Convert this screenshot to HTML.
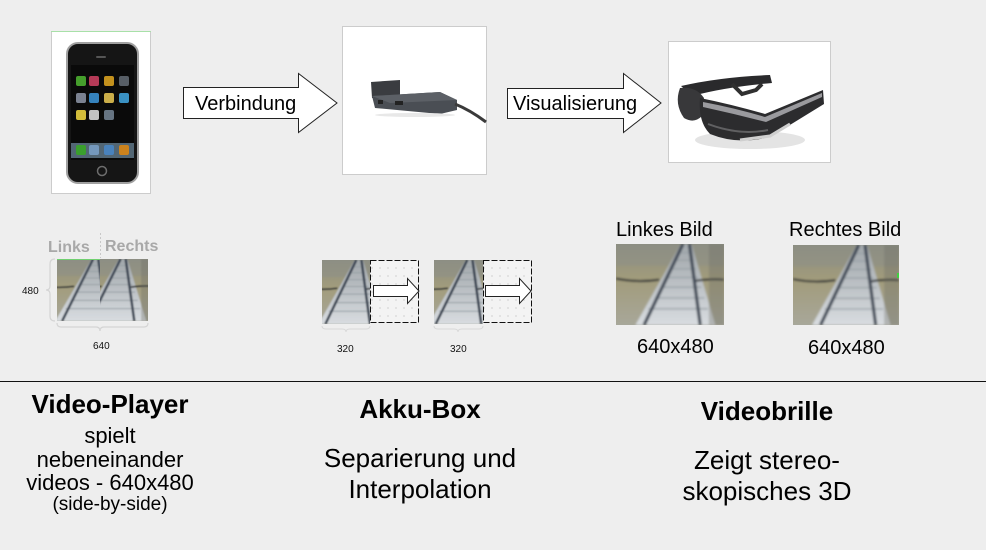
<!DOCTYPE html>
<html><head><meta charset="utf-8"><style>
html,body{margin:0;padding:0;background:#eeeeee;}
body{width:986px;height:550px;overflow:hidden;position:relative;font-family:"Liberation Sans",Arial,sans-serif;}
svg{position:absolute;left:0;top:0;}
</style></head><body>
<svg width="986" height="550" viewBox="0 0 986 550" xmlns="http://www.w3.org/2000/svg" font-family="Liberation Sans, Arial, sans-serif">
<defs>
  <linearGradient id="rbg" x1="0" y1="0" x2="0" y2="1">
    <stop offset="0" stop-color="#8a8c80"/>
    <stop offset="0.45" stop-color="#a29c7c"/>
    <stop offset="1" stop-color="#a8a89c"/>
  </linearGradient>
  <linearGradient id="trk" x1="0" y1="0" x2="0" y2="1">
    <stop offset="0" stop-color="#a0a6aa"/>
    <stop offset="1" stop-color="#d8dce0"/>
  </linearGradient>
  <filter id="soft" x="-5%" y="-5%" width="110%" height="110%"><feGaussianBlur stdDeviation="0.9"/></filter>
  <pattern id="dots" width="8" height="8" patternUnits="userSpaceOnUse">
    <rect width="8" height="8" fill="#f3f3f3"/>
    <circle cx="4" cy="4" r="0.6" fill="#b8b8b8"/>
  </pattern>
  <symbol id="rail" viewBox="0 0 100 75" preserveAspectRatio="none">
    <g filter="url(#soft)">
    <rect x="-3" y="-3" width="106" height="81" fill="url(#rbg)"/>
    <rect x="0" y="0" width="100" height="20" fill="#8e9088" opacity="0.5"/>
    <polygon points="60,0 70,0 92,75 18,75" fill="url(#trk)"/>
    <g stroke="#98a0a6" stroke-width="1.2">
      <line x1="30" y1="60" x2="85" y2="60"/><line x1="36" y1="50" x2="82" y2="50"/>
      <line x1="42" y1="40" x2="79" y2="40"/><line x1="47" y1="31" x2="76" y2="31"/>
      <line x1="51" y1="23" x2="74" y2="23"/><line x1="55" y1="15" x2="72" y2="15"/>
      <line x1="58" y1="8" x2="70" y2="8"/>
    </g>
    <polyline points="62,0 26,75" stroke="#404a56" stroke-width="3" fill="none"/>
    <polyline points="68,0 78,75" stroke="#404a56" stroke-width="3" fill="none"/>
    <path d="M0,32 Q20,36 40,33" stroke="#2e3234" stroke-width="2" fill="none"/>
    <path d="M74,34 Q88,32 100,33" stroke="#2e3234" stroke-width="2" fill="none"/>
    <rect x="86" y="0" width="14" height="75" fill="#6c6c64" opacity="0.35"/>
    </g>
  </symbol>
</defs>

<!-- Phone box -->
<rect x="51.5" y="31.5" width="99" height="162" fill="#ffffff" stroke="#cccccc"/>
<line x1="51" y1="31.5" x2="151" y2="31.5" stroke="#a8e0a8"/>
<rect x="67" y="43" width="71" height="140" rx="11" fill="#151515" stroke="#a0a0a0" stroke-width="2"/>
<rect x="71" y="65" width="63" height="95" fill="#0a0a0a"/>
<rect x="96" y="56" width="10" height="2" rx="1" fill="#555"/>
<g opacity="0.9">
  <rect x="76" y="76" width="10" height="10" rx="2" fill="#4caf30"/>
  <rect x="89" y="76" width="10" height="10" rx="2" fill="#c84060"/>
  <rect x="104" y="76" width="10" height="10" rx="2" fill="#d8a020"/>
  <rect x="119" y="76" width="10" height="10" rx="2" fill="#606870"/>
  <rect x="76" y="93" width="10" height="10" rx="2" fill="#8890a0"/>
  <rect x="89" y="93" width="10" height="10" rx="2" fill="#3a90d0"/>
  <rect x="104" y="93" width="10" height="10" rx="2" fill="#e0c050"/>
  <rect x="119" y="93" width="10" height="10" rx="2" fill="#40a0d8"/>
  <rect x="76" y="110" width="10" height="10" rx="2" fill="#e8d040"/>
  <rect x="89" y="110" width="10" height="10" rx="2" fill="#d8d8d8"/>
  <rect x="104" y="110" width="10" height="10" rx="2" fill="#708090"/>
  <rect x="71" y="143" width="63" height="15" fill="#5a7080"/>
  <rect x="76" y="145" width="10" height="10" rx="2" fill="#40b030"/>
  <rect x="89" y="145" width="10" height="10" rx="2" fill="#80a8d0"/>
  <rect x="104" y="145" width="10" height="10" rx="2" fill="#5090d0"/>
  <rect x="119" y="145" width="10" height="10" rx="2" fill="#e09020"/>
  <circle cx="102" cy="171" r="4.5" fill="none" stroke="#777" stroke-width="1.5"/>
</g>

<!-- Verbindung arrow -->
<polygon points="183.5,87.5 298.5,87.5 298.5,73.5 337,103 298.5,132.5 298.5,118.5 183.5,118.5" fill="#ffffff" stroke="#222" stroke-width="1"/>
<text x="195" y="110" font-size="20" fill="#000">Verbindung</text>

<!-- Akku box -->
<rect x="342.5" y="26.5" width="144" height="148" fill="#ffffff" stroke="#cccccc"/>
<g>
  <polygon points="371,82 400,80 400,96 372,98" fill="#3a3c40"/>
  <polygon points="372,96 440,92 457,100 457,110 440,114 375,108" fill="#4a4e54"/>
  <polygon points="372,96 440,92 457,100 390,103" fill="#5c6066"/>
  <rect x="395" y="101" width="8" height="4" fill="#222"/>
  <rect x="378" y="100" width="5" height="4" fill="#222"/>
  <path d="M455,104 Q470,110 486,122" stroke="#3a3a3a" stroke-width="3" fill="none"/>
  <ellipse cx="415" cy="115" rx="40" ry="2" fill="#e8e8e8"/>
</g>

<!-- Visualisierung arrow -->
<polygon points="507.5,88.5 623.5,88.5 623.5,73.5 661,103 623.5,132.5 623.5,118.5 507.5,118.5" fill="#ffffff" stroke="#222" stroke-width="1"/>
<text x="513" y="110" font-size="20" fill="#000">Visualisierung</text>

<!-- Glasses box -->
<rect x="668.5" y="41.5" width="162" height="121" fill="#ffffff" stroke="#cccccc"/>
<g>
  <ellipse cx="750" cy="140" rx="55" ry="9" fill="#e4e4e4"/>
  <path d="M681,86 Q720,77 770,75 L772,83 Q725,87 692,96 Z" fill="#2a2a2c"/>
  <path d="M732,84 L742,94 L756,90 L762,84" stroke="#303030" stroke-width="4" fill="none"/>
  <path d="M680,88 Q674,104 684,118 Q694,124 702,116 L704,98 Q696,86 680,88 Z" fill="#38383a"/>
  <path d="M700,98 Q730,104 765,114 L823,90 L824,104 L772,136 Q740,146 710,134 Q698,122 700,98 Z" fill="#2c2c2e"/>
  <path d="M703,102 Q735,108 765,117 L822,93 L822,97 L766,122 Q735,114 703,107 Z" fill="#9a9a9e"/>
  <path d="M708,124 Q740,136 768,130" stroke="#606062" stroke-width="2" fill="none"/>
  <path d="M740,140 L770,136 L790,124" stroke="#cfcfcf" stroke-width="3" fill="none"/>
</g>

<!-- Links / Rechts -->
<text x="48" y="252" font-size="16" font-weight="bold" fill="#a8a8a8">Links</text>
<text x="105" y="251" font-size="16" font-weight="bold" fill="#a8a8a8">Rechts</text>
<line x1="100.5" y1="233" x2="100.5" y2="258" stroke="#c8c8c8" stroke-dasharray="2,2"/>
<svg x="57" y="259" width="43" height="62" viewBox="0 0 50 75" preserveAspectRatio="none"><use href="#rail" width="100" height="75" x="-20"/></svg>
<svg x="100" y="259" width="48" height="62" viewBox="0 0 56 75" preserveAspectRatio="none"><use href="#rail" width="100" height="75" x="-38"/></svg>
<line x1="57" y1="259.5" x2="100" y2="259.5" stroke="#70d070"/>
<path d="M55,259 Q50,259 50,264 L50,286 Q50,290 46,290 Q50,290 50,294 L50,316 Q50,321 55,321" fill="none" stroke="#d4d4d4" stroke-width="1.2"/>
<path d="M57,323 Q57,327 61,327 L96,327 Q100,327 100,331 Q100,327 104,327 L144,327 Q148,327 148,323" fill="none" stroke="#d4d4d4" stroke-width="1.2"/>
<text x="22" y="294" font-size="10" fill="#111">480</text>
<text x="93" y="349" font-size="10" fill="#111">640</text>

<!-- Akku separation -->
<svg x="322" y="260" width="48" height="64" viewBox="0 0 56 75" preserveAspectRatio="none"><use href="#rail" width="100" height="75" x="-22"/></svg>
<rect x="370.5" y="260.5" width="48" height="62" fill="url(#dots)" stroke="#111" stroke-dasharray="6,2"/>
<polygon points="373.5,285.5 407.5,285.5 407.5,278.5 419,291 407.5,303.5 407.5,296.5 373.5,296.5" fill="#ffffff" stroke="#222"/>
<path d="M322,326 Q322,329 326,329 L342,329 Q346,329 346,332 Q346,329 350,329 L366,329 Q370,329 370,326" fill="none" stroke="#d8d8d8"/>
<text x="337" y="352" font-size="10" fill="#111">320</text>

<svg x="434" y="260" width="49" height="64" viewBox="0 0 56 75" preserveAspectRatio="none"><use href="#rail" width="100" height="75" x="-24"/></svg>
<rect x="483.5" y="260.5" width="48" height="62" fill="url(#dots)" stroke="#111" stroke-dasharray="6,2"/>
<polygon points="485.5,285.5 519.5,285.5 519.5,278.5 531,291 519.5,303.5 519.5,296.5 485.5,296.5" fill="#ffffff" stroke="#222"/>
<path d="M434,326 Q434,329 438,329 L454,329 Q458,329 458,332 Q458,329 462,329 L479,329 Q483,329 483,326" fill="none" stroke="#d8d8d8"/>
<text x="450" y="352" font-size="10" fill="#111">320</text>

<!-- Right images -->
<text x="616" y="236" font-size="20" fill="#000">Linkes Bild</text>
<svg x="616" y="244" width="108" height="81" viewBox="0 0 100 75" preserveAspectRatio="none"><use href="#rail" width="100" height="75"/></svg>
<text x="637" y="353" font-size="20" fill="#000">640x480</text>

<text x="789" y="236" font-size="20" fill="#000">Rechtes Bild</text>
<svg x="793" y="245" width="106" height="80" viewBox="0 0 100 75" preserveAspectRatio="none"><use href="#rail" width="100" height="75"/></svg>
<line x1="898" y1="273" x2="898" y2="278" stroke="#40d040" stroke-width="2"/>
<text x="808" y="354" font-size="20" fill="#000">640x480</text>

<!-- Divider -->
<line x1="0" y1="381.5" x2="986" y2="381.5" stroke="#111" stroke-width="1"/>

<!-- Bottom labels -->
<g text-anchor="middle" fill="#000">
  <text x="110" y="413" font-size="26" font-weight="bold">Video-Player</text>
  <text x="110" y="443" font-size="22">spielt</text>
  <text x="110" y="467" font-size="22">nebeneinander</text>
  <text x="110" y="490" font-size="22">videos - 640x480</text>
  <text x="110" y="510" font-size="19">(side-by-side)</text>

  <text x="420" y="418" font-size="26" font-weight="bold">Akku-Box</text>
  <text x="420" y="467" font-size="26">Separierung und</text>
  <text x="420" y="498" font-size="26">Interpolation</text>

  <text x="767" y="420" font-size="26" font-weight="bold">Videobrille</text>
  <text x="767" y="469" font-size="26">Zeigt stereo-</text>
  <text x="767" y="500" font-size="26">skopisches 3D</text>
</g>
</svg>
</body></html>
